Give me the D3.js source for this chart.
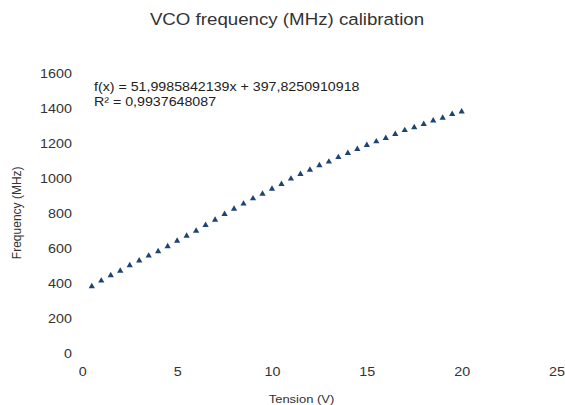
<!DOCTYPE html>
<html>
<head>
<meta charset="utf-8">
<script src="https://cdn.jsdelivr.net/npm/d3@7"></script>
<style>
  html, body { margin: 0; padding: 0; background: #fff; }
  svg { display: block; font-family: "Liberation Sans", Arial, sans-serif; }
</style>
</head>
<body>
<svg id="chart" width="565" height="405"></svg>
<script>
// Tuning voltage (V) and measured VCO output frequency (MHz)
const tension = [
  0.5, 1, 1.5, 2, 2.5, 3, 3.5, 4, 4.5, 5,
  5.5, 6, 6.5, 7, 7.5, 8, 8.5, 9, 9.5, 10,
  10.5, 11, 11.5, 12, 12.5, 13, 13.5, 14, 14.5, 15,
  15.5, 16, 16.5, 17, 17.5, 18, 18.5, 19, 19.5, 20
];
const frequency = [
  388, 420, 451, 477, 508, 535, 563, 588, 617, 648,
  677, 705, 738, 768, 801, 831, 860, 890, 917, 945,
  972, 1003, 1029, 1054, 1079, 1100, 1126, 1149, 1172, 1195,
  1216, 1235, 1258, 1280, 1297, 1315, 1335, 1351, 1372, 1387
];
const xTicks = [0, 5, 10, 15, 20, 25];
const yTicks = [0, 200, 400, 600, 800, 1000, 1200, 1400, 1600];
const titleText = "VCO frequency (MHz) calibration";
const xTitle = "Tension (V)";
const yTitle = "Frequency (MHz)";
const trendLines = ["f(x) = 51,9985842139x + 397,8250910918", "R\u00b2 = 0,9937648087"];

const svg = d3.select("#chart");
const SX = 1.12; // horizontal glyph widening used for all horizontal text

const x = d3.scaleLinear().domain([0, 25]).range([82.3, 556.5]);
const y = d3.scaleLinear().domain([0, 1600]).range([354.3, 74.3]);

// Title
svg.append("text")
  .attr("transform", `translate(287,25) scale(${SX},1)`)
  .attr("text-anchor", "middle")
  .attr("font-size", 16.7)
  .attr("fill", "#333")
  .text(titleText);

// Y axis (labels only)
const gy = svg.append("g")
  .attr("transform", "translate(72,0)")
  .call(d3.axisLeft(y).tickValues(yTickVals()).tickSize(0).tickPadding(0).tickFormat(d3.format("d")));
gy.select(".domain").remove();
gy.selectAll("text")
  .attr("x", 0).attr("dy", 3.0)
  .attr("transform", `scale(${SX},1)`)
  .attr("font-size", 12.8)
  .attr("font-family", "Liberation Sans, Arial, sans-serif")
  .attr("fill", "#333");
function yTickVals() { return yTicks; }

// X axis (labels only)
const gx = svg.append("g")
  .attr("transform", "translate(0,375.7)")
  .call(d3.axisBottom(x).tickValues(xTicks).tickSize(0).tickPadding(0).tickFormat(d3.format("d")));
gx.select(".domain").remove();
gx.selectAll("text")
  .attr("y", 0).attr("dy", 0)
  .attr("transform", `scale(${SX},1)`)
  .attr("font-size", 12.8)
  .attr("font-family", "Liberation Sans, Arial, sans-serif")
  .attr("fill", "#333");

// Axis titles
svg.append("text")
  .attr("transform", `translate(301.5,402.5) scale(${SX},1)`)
  .attr("text-anchor", "middle")
  .attr("font-size", 11.6)
  .attr("fill", "#333")
  .text(xTitle);

svg.append("text")
  .attr("transform", "translate(20.5,212.8) rotate(-90)")
  .attr("text-anchor", "middle")
  .attr("font-size", 12)
  .attr("fill", "#333")
  .text(yTitle);

// Data points as triangles
const tri = d3.symbol().type(d3.symbolTriangle).size(17);
svg.append("g")
  .selectAll("path")
  .data(tension.map((t, i) => [t, frequency[i]]))
  .join("path")
  .attr("d", tri)
  .attr("transform", d => `translate(${x(d[0])},${y(d[1])})`)
  .attr("fill", "#1b4577");

// Regression equation
const eq = svg.append("g");
trendLines.forEach((s, i) => {
  eq.append("text")
    .attr("transform", `translate(94,${91 + i * 15.2}) scale(${SX},1)`)
    .attr("font-size", 12.7)
    .attr("fill", "#222")
    .text(s);
});
</script>
</body>
</html>
